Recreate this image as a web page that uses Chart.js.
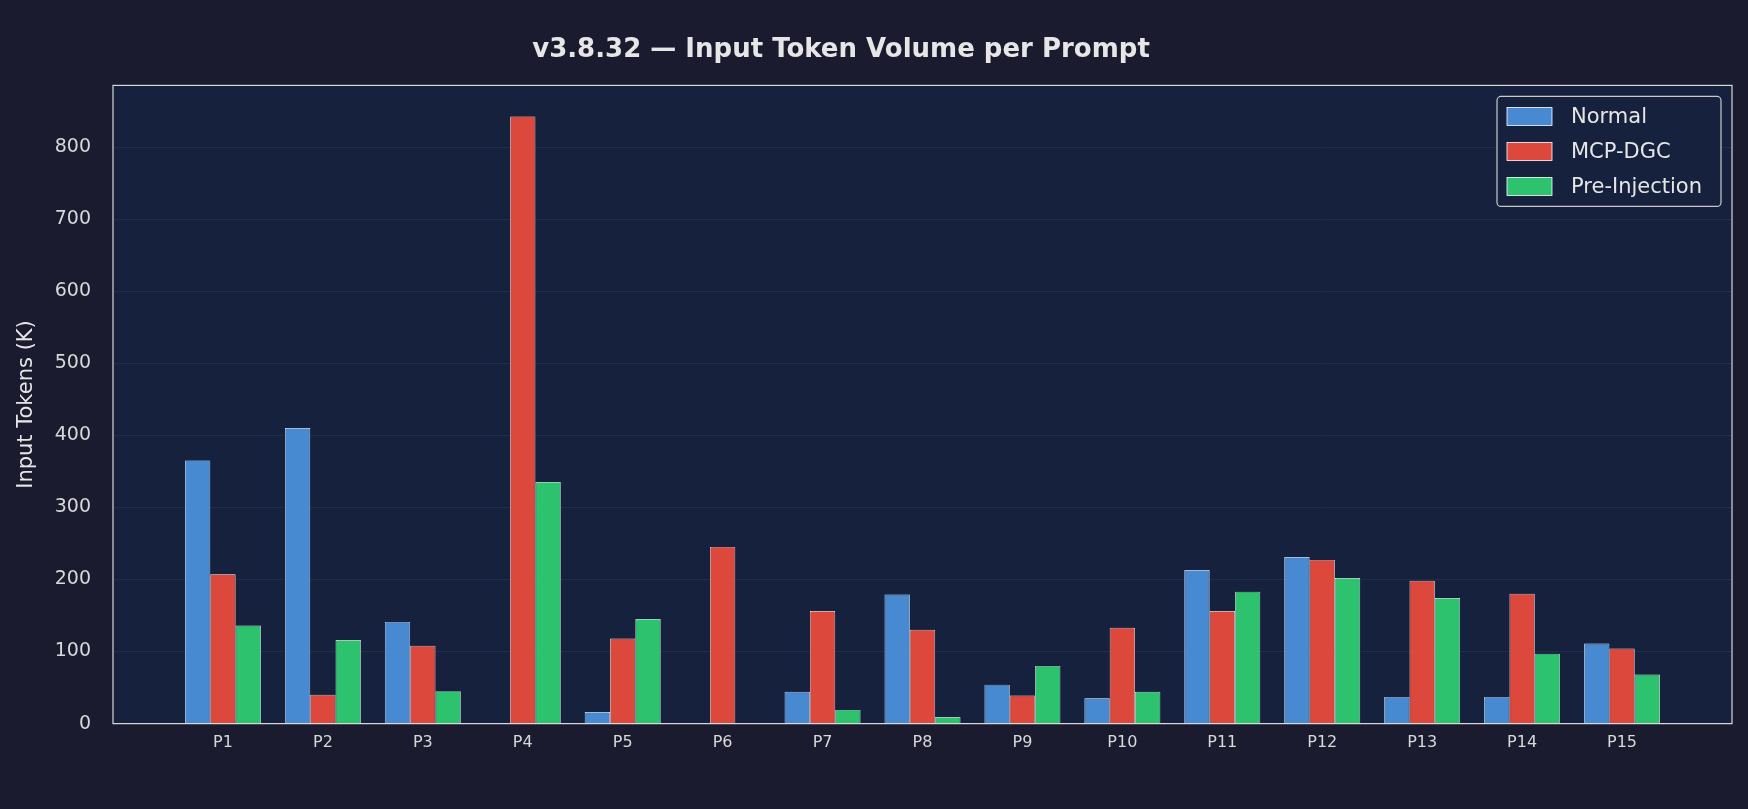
<!DOCTYPE html>
<html>
<head>
<meta charset="utf-8">
<script src="https://cdn.jsdelivr.net/npm/chart.js@4.4.1/dist/chart.umd.min.js"></script>
<style>
  html, body { margin: 0; padding: 0; background: #1a1b2e; overflow: hidden; }
  #wrap { width: 1748px; height: 809px; position: relative; }
</style>
</head>
<body>
<div id="wrap"><canvas id="c"></canvas></div>
<script>
const prompts = ["P1","P2","P3","P4","P5","P6","P7","P8","P9","P10","P11","P12","P13","P14","P15"];
const normal = [365, 410, 141, 0, 16, 0, 44, 179, 54, 35, 213, 231, 37, 37, 111];
const mcpDgc = [207, 40, 108, 842, 118, 245, 156, 130, 39, 133, 156, 227, 198, 180, 104];
const preInjection = [136, 116, 45, 335, 145, 0, 19, 9, 80, 44, 183, 202, 174, 97, 68];
const yTicks = [0, 100, 200, 300, 400, 500, 600, 700, 800];

const PAD = 60; // gap between frame and first/last group

const framePlugin = {
  id: "frame",
  beforeDatasetsDraw(chart) {
    const { ctx, chartArea: a, scales: { y } } = chart;
    const l = a.left - PAD, r = a.right + PAD;
    ctx.save();
    ctx.fillStyle = "#16213e";
    ctx.fillRect(l, a.top, r - l, a.bottom - a.top);
    ctx.strokeStyle = "rgba(255,255,255,0.05)";
    ctx.lineWidth = 1;
    yTicks.forEach(v => {
      const py = Math.round(y.getPixelForValue(v)) + 0.5;
      ctx.beginPath(); ctx.moveTo(l, py); ctx.lineTo(r, py); ctx.stroke();
    });
    ctx.restore();
  },
  afterDraw(chart) {
    const { ctx, chartArea: a } = chart;
    const l = a.left - PAD, r = a.right + PAD;
    ctx.save();
    ctx.strokeStyle = "#d8d8d8";
    ctx.lineWidth = 1.2;
    ctx.strokeRect(l, a.top, r - l, a.bottom - a.top);
    // legend
    const bx = r - 235, by = a.top + 11, bw = 224, bh = 110;
    ctx.fillStyle = "rgba(22,33,62,0.9)";
    ctx.strokeStyle = "#c8c8c8";
    ctx.lineWidth = 1.2;
    ctx.beginPath();
    ctx.roundRect(bx, by, bw, bh, 4);
    ctx.fill(); ctx.stroke();
    ctx.font = "21px 'DejaVu Sans'";
    ctx.textBaseline = "middle";
    chart.data.datasets.forEach((ds, i) => {
      const cy = by + 20 + i * 35;
      ctx.fillStyle = ds.backgroundColor;
      ctx.fillRect(bx + 10, cy - 9, 45, 18);
      ctx.strokeStyle = "#ffffff";
      ctx.lineWidth = 0.8;
      ctx.strokeRect(bx + 10, cy - 9, 45, 18);
      ctx.fillStyle = "#e6e6e6";
      ctx.fillText(ds.label, bx + 74, cy + 1);
    });
    ctx.restore();
  }
};

new Chart(document.getElementById("c"), {
  type: "bar",
  data: {
    labels: prompts,
    datasets: [
      { label: "Normal", data: normal, backgroundColor: "rgba(74,144,217,0.95)" },
      { label: "MCP-DGC", data: mcpDgc, backgroundColor: "rgba(231,76,60,0.95)" },
      { label: "Pre-Injection", data: preInjection, backgroundColor: "rgba(46,204,113,0.95)" }
    ].map(d => Object.assign(d, { borderColor: "#ffffff", borderWidth: 0.7, categoryPercentage: 0.76, barPercentage: 1.0 }))
  },
  options: {
    responsive: true,
    maintainAspectRatio: false,
    animation: false,
    layout: { padding: { left: 10, right: PAD + 16, top: 0, bottom: 2 } },
    plugins: {
      legend: { display: false },
      tooltip: { enabled: false },
      title: {
        display: true,
        text: "v3.8.32 \u2014 Input Token Volume per Prompt",
        color: "#e6e6e6",
        font: { family: "DejaVu Sans", size: 26, weight: "bold" },
        padding: { top: 12, bottom: 20 }
      }
    },
    scales: {
      x: {
        grid: { display: false, drawTicks: false },
        border: { display: false },
        afterFit: s => { s.height = 42; },
        ticks: { color: "#d8d8d8", font: { family: "DejaVu Sans", size: 16 }, padding: 10, maxRotation: 0, autoSkip: false }
      },
      y: {
        min: 0,
        max: 885,
        afterBuildTicks: s => { s.ticks = yTicks.map(v => ({ value: v })); },
        afterFit: s => { s.width = 163; },
        grid: { display: false },
        border: { display: false },
        ticks: { color: "#d8d8d8", font: { family: "DejaVu Sans", size: 19 }, padding: PAD + 14 },
        title: {
          display: true,
          text: "Input Tokens (K)",
          color: "#e6e6e6",
          font: { family: "DejaVu Sans", size: 21 },
          padding: { bottom: 4 }
        }
      }
    }
  },
  plugins: [framePlugin]
});
</script>
</body>
</html>
